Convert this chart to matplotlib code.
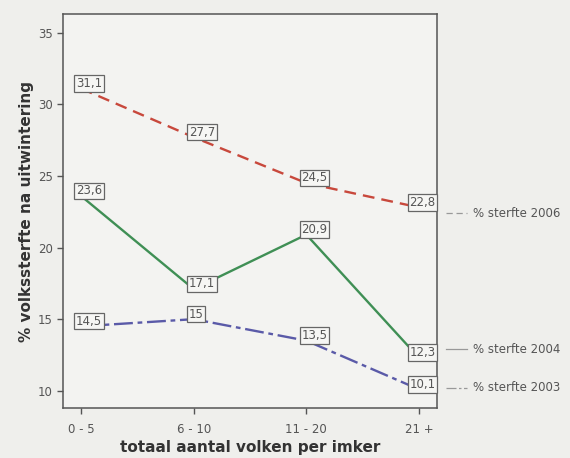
import matplotlib.pyplot as plt
import numpy as np

categories = ['0 - 5', '6 - 10', '11 - 20', '21 +']
sterfte_2006 = [31.1, 27.7, 24.5, 22.8]
sterfte_2004 = [23.6, 17.1, 20.9, 12.3]
sterfte_2003 = [14.5, 15.0, 13.5, 10.1]
labels_2006 = ['31,1', '27,7', '24,5', '22,8']
labels_2004 = ['23,6', '17,1', '20,9', '12,3']
labels_2003 = ['14,5', '15', '13,5', '10,1']
legend_names = ['% sterfte 2006', '% sterfte 2004', '% sterfte 2003']
legend_y = [22.4, 12.9, 10.2]

bg = '#efefec'
txt = '#555555'
fig = plt.figure(figsize=(5.7, 4.58), dpi=100, facecolor=bg)
ax = fig.add_axes([63 / 570, 1 - 408 / 458, (437 - 63) / 570, (408 - 14) / 458])
ax.set_facecolor('#f3f3f1')

x = np.arange(len(categories))
series = [
    (sterfte_2006, labels_2006, '#c8483c', (0, (5, 3))),
    (sterfte_2004, labels_2004, '#3f8f55', '-'),
    (sterfte_2003, labels_2003, '#5a5aa8', (0, (8, 2, 2, 2))),
]
for vals, labs, col, ls in series:
    ax.plot(x, vals, color=col, linestyle=ls, linewidth=1.7)
    for xi, v, lab in zip(x, vals, labs):
        if xi == len(categories) - 1:
            off, ha = (12, -1), 'right'
        else:
            off, ha = (-3.5, -1), 'left'
        ax.annotate(lab, (xi, v), xytext=off, textcoords='offset points',
                    ha=ha, va='bottom', fontsize=8.5, color=txt,
                    bbox=dict(boxstyle='square,pad=0.15', fc='#f6f6f4', ec='#666666', lw=0.9))

# line end labels
for (vals, labs, col, ls), name, ly in zip(series, legend_names, legend_y):
    ax.plot([3.24, 3.43], [ly, ly], color='#999999', linestyle=ls, linewidth=0.9, clip_on=False)
    ax.text(3.48, ly, name, fontsize=8.5, color=txt, va='center', ha='left', clip_on=False)

ax.set_xlim(-0.16, 3.16)
ax.set_ylim(8.8, 36.3)
ax.set_xticks(x)
ax.set_xticklabels(categories)
ax.set_yticks([10, 15, 20, 25, 30, 35])
ax.tick_params(colors=txt, labelsize=8.5, length=4, width=1)
ax.tick_params(axis='x', pad=7)
for s in ax.spines.values():
    s.set_color('#555555')
    s.set_linewidth(1.1)
ax.set_xlabel('totaal aantal volken per imker', fontsize=11, fontweight='bold', color='#333333', labelpad=3)
ax.set_ylabel('% volkssterfte na uitwintering', fontsize=11, fontweight='bold', color='#333333', labelpad=3)

fig.savefig('out.png', dpi=100, facecolor=bg)
